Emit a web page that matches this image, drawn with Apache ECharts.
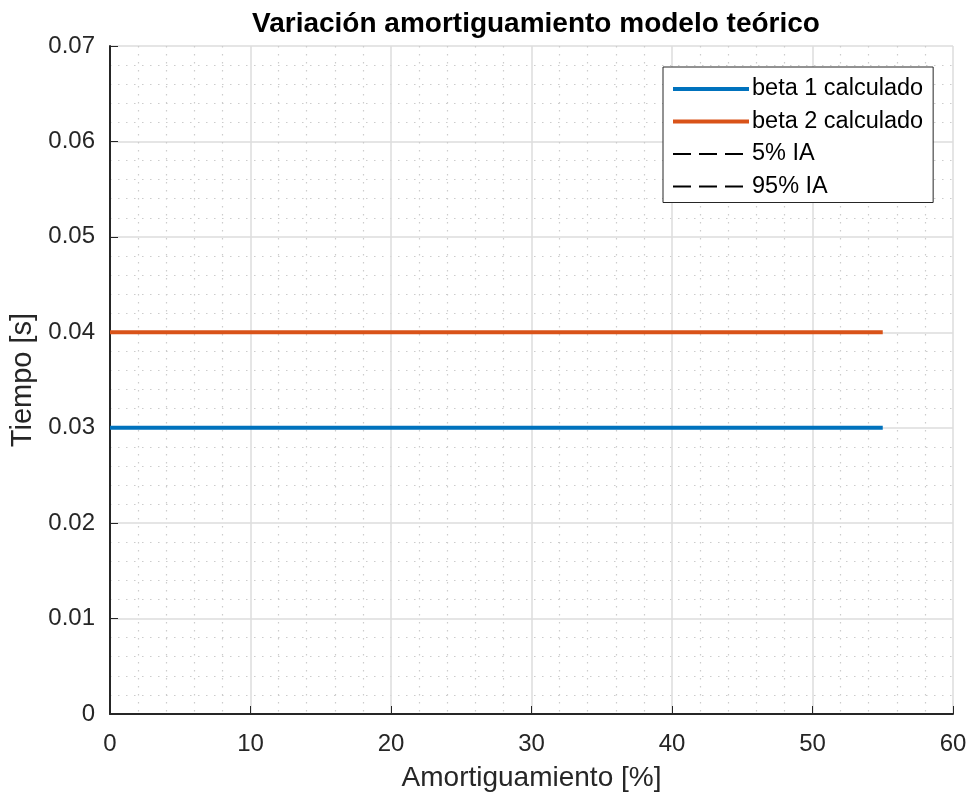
<!DOCTYPE html>
<html><head><meta charset="utf-8">
<script src="https://cdn.jsdelivr.net/npm/echarts@6/dist/echarts.min.js"></script>
<style>html,body{margin:0;padding:0;background:#fff}#c{width:974px;height:798px}</style>
</head><body><div id="c"></div>
<script>
const seriesNames = ['beta 1 calculado','beta 2 calculado','5% IA','95% IA'];
const beta1 = [[0,0.03],[55,0.03]];
const beta2 = [[0,0.04],[55,0.04]];
const ia5 = [];
const ia95 = [];
const xTicks = [0,10,20,30,40,50,60];
const yTicks = [0,0.01,0.02,0.03,0.04,0.05,0.06,0.07];

const font = 'Liberation Sans, Arial, Helvetica, sans-serif';
const chart = echarts.init(document.getElementById('c'));
chart.setOption({
  animation:false,
  backgroundColor:'#fff',
  title:{text:'Variación amortiguamiento modelo teórico',left:531,top:5,textAlign:'center',
    textStyle:{fontFamily:font,fontSize:28,fontWeight:'bold',color:'#000'}},
  grid:{left:110,right:21,top:46,bottom:84,containLabel:false,outerBoundsMode:'none'},
  legend:{
    data:[
      {name:seriesNames[0],lineStyle:{width:4}},
      {name:seriesNames[1],lineStyle:{width:4}},
      {name:seriesNames[2]},
      {name:seriesNames[3]}
    ],
    orient:'vertical', left:663, top:67,
    backgroundColor:'#fff', borderColor:'#262626', borderWidth:1, padding:[10,10,4,8],
    itemWidth:76, itemHeight:14, itemGap:8.5,
    itemStyle:{opacity:0},
    textStyle:{fontFamily:font,fontSize:23.5,color:'#000',padding:[0,0,0,-2]}
  },
  xAxis:{type:'value',min:xTicks[0],max:xTicks[xTicks.length-1],interval:10,
    name:'Amortiguamiento [%]',nameLocation:'middle',nameGap:50,
    nameTextStyle:{fontFamily:font,fontSize:28,color:'#262626'},
    axisLine:{show:true,onZero:false,lineStyle:{color:'#262626',width:2}},
    axisTick:{show:true,inside:true,length:8,lineStyle:{color:'#262626'}},
    axisLabel:{fontFamily:font,fontSize:24,color:'#262626',margin:18},
    splitLine:{show:true,lineStyle:{color:'#dcdcdc',width:1.5}},
    minorTick:{show:false,splitNumber:5},
    minorSplitLine:{show:true,lineStyle:{color:'#cccccc',type:[1.5,6.5],width:1.2}}
  },
  yAxis:{type:'value',min:yTicks[0],max:yTicks[yTicks.length-1],interval:0.01,
    name:'Tiempo [s]',nameLocation:'middle',nameGap:69,
    nameTextStyle:{fontFamily:font,fontSize:29,color:'#262626'},
    axisLine:{show:true,onZero:false,lineStyle:{color:'#262626',width:2}},
    axisTick:{show:true,inside:true,length:8,lineStyle:{color:'#262626'}},
    axisLabel:{fontFamily:font,fontSize:24,color:'#262626',margin:15,
      formatter:v=>v===0?'0':v.toFixed(2)},
    splitLine:{show:true,lineStyle:{color:'#dcdcdc',width:1.5}},
    minorTick:{show:false,splitNumber:5},
    minorSplitLine:{show:true,lineStyle:{color:'#cccccc',type:[1.5,6.5],width:1.2}}
  },
  series:[
    {name:seriesNames[0],type:'line',data:beta1,showSymbol:false,symbol:'none',
      lineStyle:{color:'#0072BD',width:4},itemStyle:{color:'#0072BD'}},
    {name:seriesNames[1],type:'line',data:beta2,showSymbol:false,symbol:'none',
      lineStyle:{color:'#D95319',width:4},itemStyle:{color:'#D95319'}},
    {name:seriesNames[2],type:'line',data:ia5,showSymbol:false,symbol:'none',
      lineStyle:{color:'#000',width:1.2,type:[18,8]},itemStyle:{color:'#000'}},
    {name:seriesNames[3],type:'line',data:ia95,showSymbol:false,symbol:'none',
      lineStyle:{color:'#000',width:1.2,type:[18,8]},itemStyle:{color:'#000'}}
  ]
});
</script></body></html>
